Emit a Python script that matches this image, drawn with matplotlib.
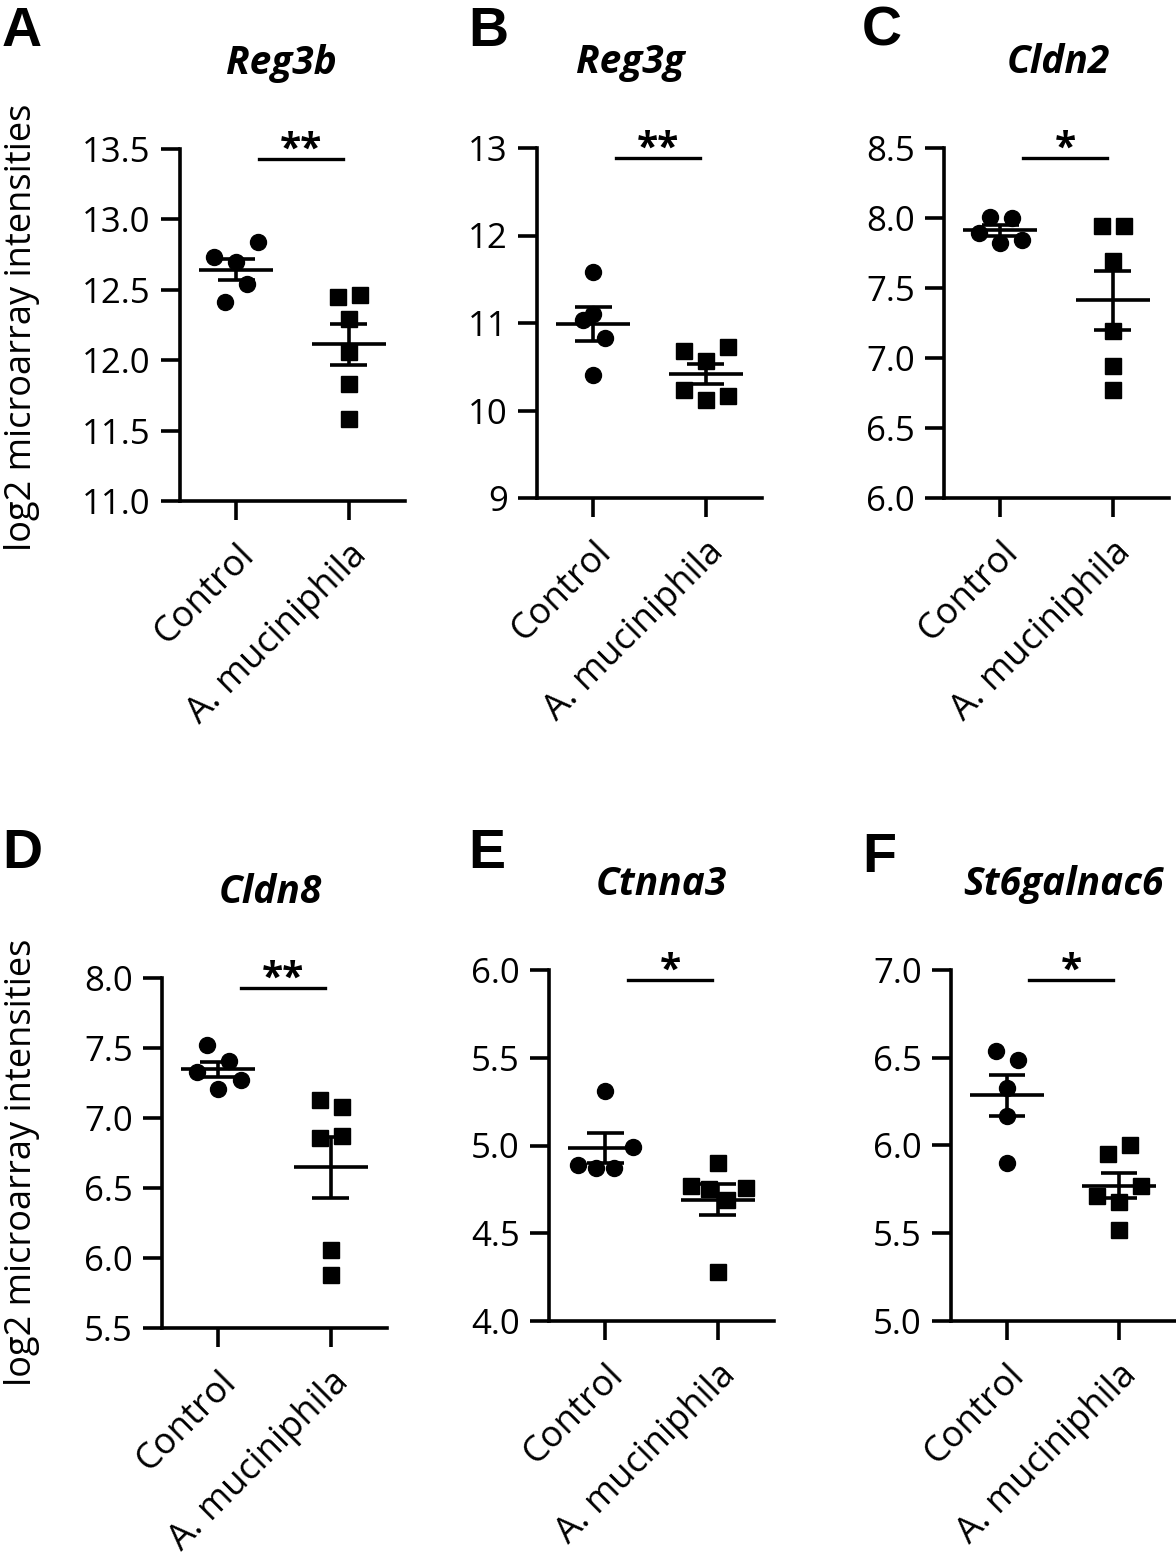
import numpy as np
import matplotlib.pyplot as plt

plt.rcParams['font.family'] = ['Open Sans', 'DejaVu Sans']

genes = ['Reg3b', 'Reg3g', 'Cldn2', 'Cldn8', 'Ctnna3', 'St6galnac6']
groups = ['Control', 'A. muciniphila']
letters = ['A', 'B', 'C', 'D', 'E', 'F']
stars = ['**', '**', '*', '**', '*', '*']

# values
ctrl_vals = [
    [12.84, 12.73, 12.70, 12.54, 12.41],
    [11.58, 11.10, 11.03, 10.83, 10.41],
    [8.01, 8.00, 7.89, 7.84, 7.82],
    [7.52, 7.41, 7.33, 7.27, 7.21],
    [5.31, 4.99, 4.89, 4.87, 4.87],
    [6.54, 6.49, 6.33, 6.17, 5.90],
]
muc_vals = [
    [12.46, 12.45, 12.29, 12.06, 11.83, 11.58],
    [10.73, 10.68, 10.57, 10.24, 10.17, 10.12],
    [7.94, 7.94, 7.69, 7.19, 6.94, 6.77],
    [7.13, 7.08, 6.87, 6.86, 6.06, 5.88],
    [4.90, 4.77, 4.76, 4.75, 4.69, 4.28],
    [6.00, 5.95, 5.77, 5.71, 5.68, 5.52],
]
# horizontal scatter of the points (category units)
ctrl_jit = [
    [0.19, -0.2, 0, 0.095, -0.1],
    [0, 0, -0.09, 0.1, 0],
    [-0.09, 0.1, -0.19, 0.19, 0],
    [-0.1, 0.1, -0.19, 0.2, 0],
    [0, 0.25, -0.245, -0.08, 0.08],
    [-0.1, 0.1, 0, 0, 0],
]
muc_jit = [
    [0.1, -0.1, 0, 0, 0, 0],
    [0.2, -0.19, 0, -0.19, 0.2, 0],
    [-0.1, 0.1, 0, 0, 0, 0],
    [-0.1, 0.1, 0.1, -0.1, 0, 0],
    [0, -0.24, 0.25, -0.08, 0.08, 0],
    [0.1, -0.1, 0.2, -0.2, 0, 0],
]
ylims = [(11.0, 13.5), (9, 13), (6.0, 8.5), (5.5, 8.0), (4.0, 6.0), (5.0, 7.0)]
ysteps = [0.5, 1, 0.5, 0.5, 0.5, 0.5]

W, H = 1176, 1556
# axes boxes in pixels: left, top, width, height
boxes = [
    (180, 149, 225, 352),
    (537, 148, 225, 350),
    (944, 148, 225, 350),
    (162, 978, 225, 350),
    (549, 970, 225, 351),
    (951, 970, 224, 351),
]
title_x = [0.45, 0.415, 0.51, 0.48, 0.5, 0.5]
letter_pos = [(2, 6), (468, 6), (862, 6), (2, 828), (468, 828), (862, 832)]

fig = plt.figure(figsize=(W / 100, H / 100), dpi=100)
lw = 2.6

for i in range(6):
    l, t, w, h = boxes[i]
    ax = fig.add_axes([l / W, 1 - (t + h) / H, w / W, h / H])
    for x, vals, jit, mk in [(0, ctrl_vals[i], ctrl_jit[i], 'o'), (1, muc_vals[i], muc_jit[i], 's')]:
        vals = np.array(vals)
        ax.plot(x + np.array(jit), vals, mk, ms=11.5, color='black', linestyle='none', clip_on=False)
        m = vals.mean()
        sem = vals.std(ddof=1) / np.sqrt(len(vals))
        ax.hlines(m, x - 0.33, x + 0.33, color='black', lw=lw)
        ax.vlines(x, m - sem, m + sem, color='black', lw=lw)
        ax.hlines([m - sem, m + sem], x - 0.165, x + 0.165, color='black', lw=lw)

    bot, top = ylims[i]
    ys = top - 0.028 * (top - bot)
    ax.plot([0.2, 0.95], [ys, ys], color='black', lw=2.4)
    ax.annotate(stars[i], (0.575, ys), xytext=(0, -1.5), textcoords='offset points',
                ha='center', va='baseline', fontsize=28, fontweight='bold')

    ax.set_xlim(-0.5, 1.5)
    ax.set_ylim(bot, top)
    ax.set_xticks([0, 1])
    ax.set_xticklabels(groups, rotation=45, ha='right', rotation_mode='anchor', fontsize=26)
    yt = np.arange(bot, top + ysteps[i] / 2, ysteps[i])
    ax.set_yticks(yt)
    if ysteps[i] == 1:
        ax.set_yticklabels([f'{v:.0f}' for v in yt])
    else:
        ax.set_yticklabels([f'{v:.1f}' for v in yt])
    ax.spines['top'].set_visible(False)
    ax.spines['right'].set_visible(False)
    ax.spines['left'].set_linewidth(lw)
    ax.spines['bottom'].set_linewidth(lw)
    ax.tick_params(length=14, width=lw, pad=7, color='black')
    ax.tick_params(axis='y', labelsize=25)
    ax.tick_params(axis='x', pad=12)
    ax.set_title(genes[i], fontsize=28, fontweight='bold', fontstyle='italic', pad=54, x=title_x[i])

    lx, ly = letter_pos[i]
    fig.text(lx / W, 1 - ly / H, letters[i], fontsize=40, fontweight='bold',
             family=['Liberation Sans', 'DejaVu Sans'], ha='left', va='top')

fig.text(22 / W, 1 - 327 / H, 'log2 microarray intensities', rotation=90,
         fontsize=26, ha='center', va='center')
fig.text(22 / W, 1 - 1162 / H, 'log2 microarray intensities', rotation=90,
         fontsize=26, ha='center', va='center')

fig.savefig('out.png', dpi=100)
